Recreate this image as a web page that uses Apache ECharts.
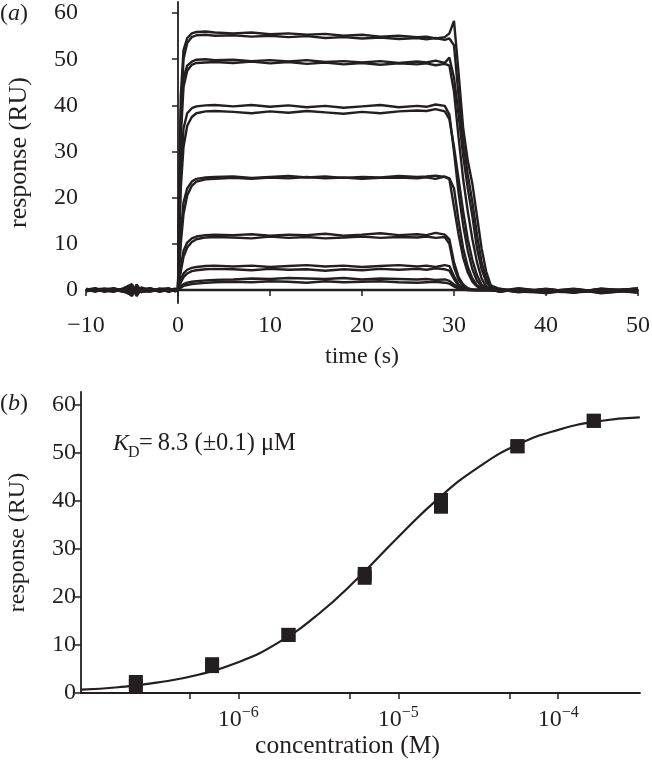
<!DOCTYPE html>
<html>
<head>
<meta charset="utf-8">
<script src="https://cdn.jsdelivr.net/npm/echarts@6/dist/echarts.min.js"></script>
<style>
  html, body { margin: 0; padding: 0; background: #fff; }
  #chart { width: 652px; height: 762px; }
</style>
</head>
<body>
<div id="chart"></div>
<script>
// (a) sensorgrams: shared time grid (s) and one response array (RU) per injection
const time = [-10, -9, -8, -7, -6, -5, -4.5, -4, -3, -2, -1, -0.3,
  0, 0.3, 0.6, 1, 1.5, 2, 3, 4,
  6, 8, 10, 12, 14, 16, 18, 20, 22, 24, 26,
  27, 28, 29, 29.5, 30, 30.5, 31, 31.5, 32, 32.5, 33, 33.5, 34,
  35, 37, 40, 43, 46, 50];

const c1a = [0.2, -0.3, 0.1, -0.2, 0.3, 1.3, -1.2, 0.4, -0.2, 0.3, -0.4, 0.1,
  0.3, 42, 52, 54.6, 55.6, 55.9, 56.0, 55.8,
  55.6, 55.8, 55.4, 55.6, 55.3, 55.5, 55.1, 55.3, 54.9, 55.1, 54.8,
  54.9, 54.5, 54.8, 55.6, 58.3, 47, 35, 28, 23, 16, 9, 4, 1,
  0.2, -0.5, 0.1, -0.6, 0.3, -0.4];
const c1b = [-0.2, 0.3, -0.1, 0.4, -0.3, -1.0, 1.1, -0.5, 0.3, -0.2, 0.3, -0.1,
  0.2, 38, 50, 53.5, 54.8, 55.2, 55.3, 55.1,
  55.2, 54.9, 55.1, 54.8, 55.0, 54.6, 54.8, 54.5, 54.7, 54.4, 54.6,
  54.3, 54.6, 54.2, 54.5, 53, 42, 32, 25, 19, 12, 6, 2.5, 0.6,
  -0.3, 0.2, -0.7, 0.1, -0.5, 0.2];
const c2a = [0.1, 0.4, -0.3, 0.2, -0.1, 1.0, -0.8, 0.2, 0.4, -0.3, 0.2, -0.2,
  0.3, 36, 46, 48.6, 49.5, 49.9, 50, 49.8,
  49.9, 49.6, 49.8, 49.5, 49.8, 49.4, 49.6, 49.3, 49.6, 49.2, 49.5,
  49.3, 49.7, 49.2, 50.4, 46, 38, 29, 22, 16, 9, 4.5, 1.8, 0.4,
  0.1, -0.4, 0.3, -0.5, 0.2, -0.6];
const c2b = [-0.3, 0.2, 0.3, -0.4, 0.2, -1.3, 0.9, -0.2, -0.3, 0.2, -0.3, 0.2,
  0.2, 33, 44, 47.5, 48.8, 49.2, 49.3, 49.4,
  49.2, 49.5, 49.1, 49.4, 49.0, 49.3, 48.9, 49.2, 48.8, 49.1, 48.9,
  49.1, 48.7, 49.0, 48.6, 43, 33, 24, 17, 11, 6, 2.5, 0.8, 0.1,
  -0.4, 0.3, -0.2, 0.2, -0.7, 0.1];
const c3a = [0.3, -0.2, 0.2, 0.1, -0.3, 0.8, -1.0, 0.6, -0.1, 0.2, 0.4, -0.3,
  0.2, 26, 35, 38.3, 39.4, 39.8, 40.0, 40.1,
  39.8, 40.1, 39.7, 40.0, 39.6, 39.9, 39.5, 39.8, 40.1, 39.6, 39.9,
  39.7, 40.2, 39.9, 38, 30, 21, 14, 8.5, 4.5, 2, 0.8, 0.2, 0,
  0.3, -0.3, -0.6, 0.2, -0.4, 0.4];
const c3b = [-0.1, 0.2, -0.4, 0.3, 0.1, -0.9, 1.2, -0.3, 0.2, -0.4, 0.1, 0.3,
  0.1, 22, 31, 35.6, 37.5, 38.3, 38.7, 38.8,
  38.6, 38.3, 38.7, 38.4, 38.8, 38.5, 38.2, 38.6, 38.3, 38.7, 38.9,
  38.8, 39.2, 38.7, 37, 31, 24, 17, 11, 6.5, 3.2, 1.2, 0.4, 0.1,
  -0.2, 0.4, -0.3, -0.5, 0.3, -0.2];
const c4a = [0.2, 0.1, -0.2, -0.3, 0.3, 1.1, -0.7, 0.1, 0.3, -0.2, -0.1, 0.2,
  0.2, 12, 19, 22, 23.5, 24.1, 24.4, 24.5,
  24.6, 24.3, 24.5, 24.7, 24.4, 24.6, 24.3, 24.5, 24.4, 24.7, 24.5,
  24.6, 24.8, 24.5, 24, 18, 12, 7, 3.8, 1.8, 0.8, 0.3, 0.1, 0,
  0.2, -0.2, 0.1, -0.5, -0.2, 0.3];
const c4b = [-0.2, -0.1, 0.3, 0.2, -0.2, -1.1, 0.8, -0.4, -0.1, 0.3, 0.2, -0.2,
  0.1, 10, 16.5, 20.5, 22.6, 23.5, 24, 24.1,
  24.3, 24.1, 24.4, 24.2, 24.5, 24.2, 24.4, 24.1, 24.3, 24.4, 24.2,
  24.4, 24.1, 24.6, 24.2, 22, 15, 9, 5, 2.5, 1, 0.4, 0.1, 0,
  -0.3, 0.1, -0.4, 0.2, -0.6, -0.1];
const c5a = [0.1, -0.3, 0.2, 0.3, -0.1, 0.9, -1.3, 0.3, 0.1, -0.2, 0.3, 0,
  0.1, 5, 8.5, 10.3, 11.2, 11.6, 11.9, 12,
  11.9, 12.1, 11.8, 12.0, 11.9, 12.2, 11.8, 12.0, 12.3, 11.9, 12.1,
  11.9, 12.4, 12.0, 11, 6, 2.8, 1.2, 0.4, 0.1, 0, 0, 0, 0,
  0.1, -0.3, 0.2, -0.4, 0.1, -0.5];
const c5b = [-0.1, 0.2, -0.2, -0.1, 0.2, -0.7, 0.6, -0.2, -0.3, 0.1, -0.2, 0.2,
  0, 4, 7.2, 9.2, 10.4, 11, 11.4, 11.5,
  11.4, 11.2, 11.6, 11.3, 11.5, 11.2, 11.4, 11.6, 11.3, 11.5, 11.4,
  11.6, 11.3, 11.5, 10, 5, 2.2, 0.9, 0.3, 0.1, 0, 0, 0, 0,
  -0.2, 0.2, -0.5, 0.1, -0.3, 0.2];
const c6a = [0.2, 0.1, -0.1, -0.2, 0.1, 0.6, -0.5, 0.2, -0.1, 0.1, 0.2, -0.1,
  0.1, 2.2, 3.6, 4.4, 4.8, 5.0, 5.2, 5.3,
  5.1, 5.3, 5.0, 5.2, 5.4, 5.1, 5.3, 5.0, 5.2, 5.4, 5.1,
  5.3, 5.0, 5.4, 5.2, 3, 1.2, 0.4, 0.1, 0, 0, 0, 0, 0,
  0, -0.4, 0.2, -0.3, -0.1, 0.1];
const c6b = [-0.1, -0.2, 0.2, 0.1, -0.3, -0.5, 0.7, -0.1, 0.2, -0.1, -0.2, 0.1,
  0, 1.6, 2.8, 3.6, 4.1, 4.3, 4.5, 4.6,
  4.5, 4.3, 4.6, 4.4, 4.5, 4.2, 4.5, 4.3, 4.6, 4.4, 4.6,
  4.4, 4.7, 4.5, 4.2, 2.4, 0.9, 0.3, 0.1, 0, 0, 0, 0, 0,
  -0.2, 0.1, -0.3, 0.3, -0.4, 0];
const c7a = [0, 0.2, -0.2, 0.1, 0.2, 0.4, -0.6, 0.1, 0.2, -0.1, 0.1, 0,
  0, 0.8, 1.3, 1.6, 1.8, 1.9, 2.1, 2.2,
  2.3, 2.5, 2.4, 2.6, 2.5, 2.4, 2.6, 2.3, 2.5, 2.4, 2.3,
  2.4, 2.2, 2.3, 2.0, 1.2, 0.5, 0.1, 0, 0, 0, 0, 0, 0,
  0.1, -0.2, 0, -0.4, 0.2, -0.2];
const c7b = [0.1, -0.1, 0.1, -0.1, -0.2, -0.4, 0.5, -0.3, 0, 0.2, -0.1, 0.1,
  0, 0.5, 0.9, 1.1, 1.3, 1.4, 1.6, 1.7,
  1.8, 1.7, 1.9, 1.8, 1.6, 1.9, 1.7, 1.8, 1.9, 1.7, 1.6,
  1.7, 1.8, 1.6, 1.4, 0.8, 0.3, 0.1, 0, 0, 0, 0, 0, 0,
  -0.1, 0.1, -0.3, 0.1, -0.2, 0.3];
const blank = [0.1, 0, -0.1, 0.2, 0, 0.5, -0.4, 0, 0.1, 0, -0.1, 0,
  0, 0, 0, 0, 0, 0, 0, 0,
  0, 0, 0, 0, 0, 0, 0, 0, 0, 0, 0,
  0, 0, 0, 0, 0, 0, 0, 0, 0, 0, 0, 0, 0,
  0, -0.3, 0.1, -0.2, 0, -0.1];

const traces = [c1a, c1b, c2a, c2b, c3a, c3b, c4a, c4b, c5a, c5b, c6a, c6b, c7a, c7b, blank];
const respTicks = [0, 10, 20, 30, 40, 50, 60];
const timeTicks = [-10, 0, 10, 20, 30, 40, 50];

// (b) steady-state responses vs concentration (M), duplicate injections
const conc = [2.29e-7, 6.86e-7, 2.06e-6, 6.17e-6, 1.85e-5, 5.56e-5, 1.667e-4];
const respA = [2.3, 6.0, 12.1, 24.8, 40.2, 51.4, 56.7];
const respB = [1.5, 5.6, 12.1, 24.0, 38.8, 51.4, 56.7];
// fitted binding curve (x as log10 of concentration)
const fitLogC = [-6.98, -6.75, -6.5, -6.25, -6, -5.75, -5.5, -5.25, -5, -4.75, -4.5, -4.25, -4, -3.75, -3.49];
const fitResp = [0.7, 1.2, 2.2, 3.8, 6.4, 10.5, 16.4, 24, 32.5, 40.5, 47, 51.8, 54.8, 56.6, 57.4];
const concLabelExp = [-6, -5, -4];
const concTickVals = [5e-7, 1e-6, 5e-6, 1e-5, 5e-5, 1e-4];

const ink = '#231f20';
const font = 'Liberation Serif';
const fs = 24;

const chart = echarts.init(document.getElementById('chart'));

const axisCommon = {
  axisLine: { lineStyle: { color: ink, width: 1.8 } },
  axisTick: { lineStyle: { color: ink, width: 1.5 }, length: 6 },
  splitLine: { show: false },
  axisLabel: { color: ink, fontFamily: font, fontSize: fs },
  nameTextStyle: { color: ink, fontFamily: font, fontSize: fs },
};

chart.setOption({
  animation: false,
  backgroundColor: '#fff',
  grid: [
    { left: 86, top: 2, width: 552, height: 301, outerBoundsMode: 'none' },
    { left: 81, top: 392, width: 559, height: 301, outerBoundsMode: 'none' },
  ],
  xAxis: [
    {
      ...axisCommon,
      gridIndex: 0,
      type: 'value',
      min: -10,
      max: 50,
      interval: 10,
      name: 'time (s)',
      nameLocation: 'middle',
      nameGap: 42,
      axisTick: { ...axisCommon.axisTick, customValues: timeTicks },
      axisLabel: {
        ...axisCommon.axisLabel,
        margin: 11,
        customValues: timeTicks,
        formatter: (v) => String(v).replace('-', '\u2212'),
      },
    },
    {
      ...axisCommon,
      gridIndex: 1,
      type: 'value',
      min: -6.983,
      max: -3.489,
      name: 'concentration (M)',
      nameLocation: 'middle',
      nameGap: 36,
      nameTextStyle: { ...axisCommon.nameTextStyle, fontSize: 25.5, padding: [0, 26, 0, 0] },
      axisTick: { ...axisCommon.axisTick, customValues: concTickVals.map(Math.log10) },
      axisLabel: {
        ...axisCommon.axisLabel,
        margin: 12,
        customValues: concLabelExp,
        formatter: (v) => '{b|10}{s|\u2212' + Math.round(-v) + '}',
        rich: {
          b: { fontFamily: font, fontSize: fs, color: ink },
          s: { fontFamily: font, fontSize: 16, color: ink, verticalAlign: 'top', padding: [0, 0, 14, 0] },
        },
      },
    },
  ],
  yAxis: [
    {
      ...axisCommon,
      gridIndex: 0,
      type: 'value',
      min: -2.8,
      max: 62.4,
      name: 'response (RU)',
      nameLocation: 'middle',
      nameGap: 54,
      nameTextStyle: { ...axisCommon.nameTextStyle, fontSize: 26 },
      axisTick: { ...axisCommon.axisTick, customValues: respTicks },
      axisLabel: { ...axisCommon.axisLabel, margin: 8, customValues: respTicks },
    },
    {
      ...axisCommon,
      gridIndex: 1,
      type: 'value',
      min: 0,
      max: 62.7,
      name: 'response (RU)',
      nameLocation: 'middle',
      nameGap: 51,
      axisTick: { ...axisCommon.axisTick, customValues: respTicks },
      axisLabel: { ...axisCommon.axisLabel, margin: 5, customValues: respTicks },
    },
  ],
  graphic: [
    {
      type: 'text', left: 0, top: 2,
      style: {
        text: '({i|a})', fill: ink, font: fs + 'px "' + font + '"',
        rich: { i: { fontStyle: 'italic', fontFamily: font, fontSize: fs, fill: ink } },
      },
    },
    {
      type: 'text', left: 0, top: 392,
      style: {
        text: '({i|b})', fill: ink, font: fs + 'px "' + font + '"',
        rich: { i: { fontStyle: 'italic', fontFamily: font, fontSize: fs, fill: ink } },
      },
    },
    {
      type: 'text', x: 113, y: 456,
      style: { text: 'K', fill: ink, font: 'italic ' + fs + 'px "' + font + '"', verticalAlign: 'bottom' },
    },
    {
      type: 'text', x: 128, y: 461,
      style: { text: 'D', fill: ink, font: '16px "' + font + '"', verticalAlign: 'bottom' },
    },
    {
      type: 'text', x: 139, y: 456,
      style: { text: '=\u20098.3 (\u00b10.1) \u03bcM', fill: ink, font: '24.5px "' + font + '"', verticalAlign: 'bottom' },
    },
  ],
  series: [
    ...traces.map((vals, k) => ({
      type: 'line',
      name: 'trace' + k,
      xAxisIndex: 0,
      yAxisIndex: 0,
      data: time.map((t, i) => [t, vals[i]]),
      showSymbol: false,
      clip: false,
      silent: true,
      lineStyle: { color: ink, width: 2.4 },
    })),
    {
      type: 'line',
      name: 'fit',
      xAxisIndex: 1,
      yAxisIndex: 1,
      data: fitLogC.map((x, i) => [x, fitResp[i]]),
      smooth: true,
      showSymbol: false,
      silent: true,
      lineStyle: { color: ink, width: 2.2 },
    },
    {
      type: 'scatter',
      name: 'run A',
      xAxisIndex: 1,
      yAxisIndex: 1,
      data: conc.map((c, i) => [Math.log10(c), respA[i]]),
      symbol: 'rect',
      symbolSize: 14,
      itemStyle: { color: ink, opacity: 1 },
    },
    {
      type: 'scatter',
      name: 'run B',
      xAxisIndex: 1,
      yAxisIndex: 1,
      data: conc.map((c, i) => [Math.log10(c), respB[i]]),
      symbol: 'rect',
      symbolSize: 14,
      itemStyle: { color: ink, opacity: 1 },
    },
  ],
});
</script>
</body>
</html>
